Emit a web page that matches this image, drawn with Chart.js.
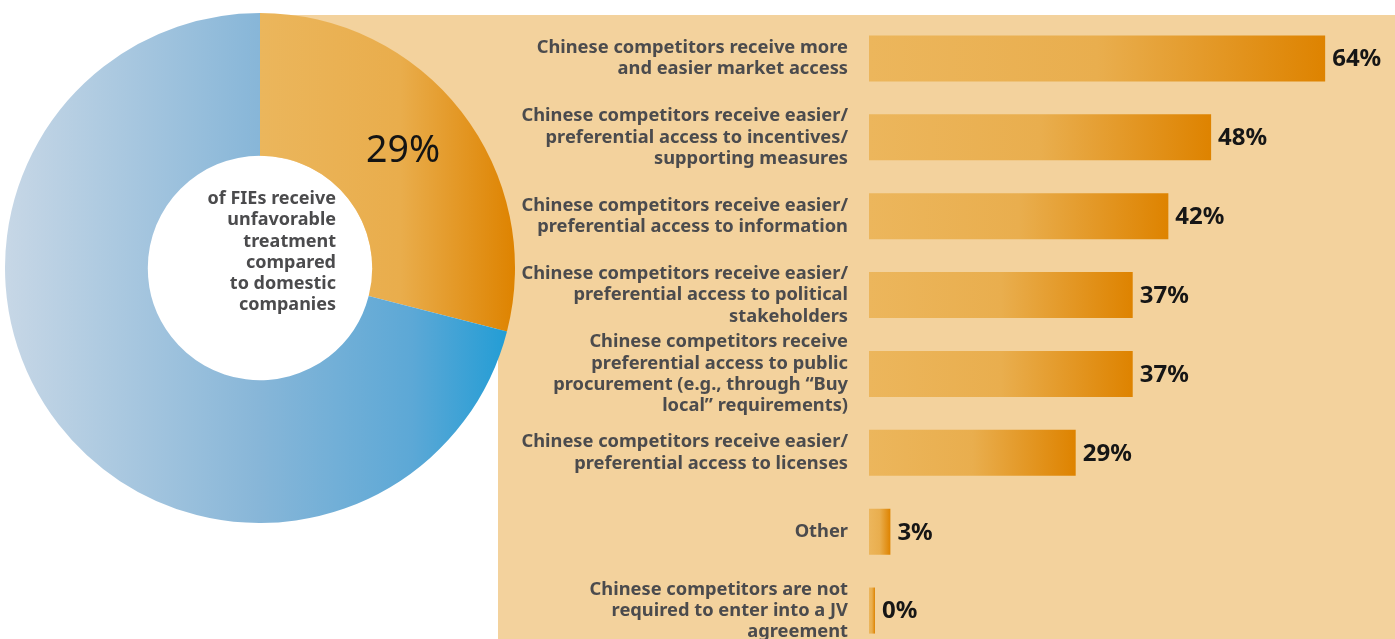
<!DOCTYPE html>
<html>
<head>
<meta charset="utf-8">
<script src="https://cdn.jsdelivr.net/npm/chart.js@4/dist/chart.umd.min.js"></script>
<style>
  html, body { margin: 0; padding: 0; background: #ffffff; overflow: hidden; }
  body { width: 1395px; height: 639px; position: relative; }
  .panel { position: absolute; background: #F3D29D; }
  #panelMain { left: 498px; top: 15px; width: 897px; height: 640px; }
  #panelTop { left: 259px; top: 15px; width: 240px; height: 253px; }
  #donutWrap { position: absolute; left: 5px; top: 13px; width: 510px; height: 510px; z-index: 2; }
  #barWrap { position: absolute; left: 500px; top: 0px; width: 895px; height: 650px; z-index: 3; }
</style>
</head>
<body>
<div class="panel" id="panelTop"></div>
<div class="panel" id="panelMain"></div>
<div id="donutWrap"><canvas id="donut"></canvas></div>
<div id="barWrap"><canvas id="bars"></canvas></div>

<script>
// Share of FIEs reporting unfavorable treatment vs. the rest
const donutLabels = ["Unfavorable treatment", "Other FIEs"];
const donutShares = [29, 71];
const holeText = ["of FIEs receive", "unfavorable", "treatment", "compared", "to domestic", "companies"];

// Ways in which Chinese competitors are favored
const categories = [
  ["Chinese competitors receive more", "and easier market access"],
  ["Chinese competitors receive easier/", "preferential access to incentives/", "supporting measures"],
  ["Chinese competitors receive easier/", "preferential access to information"],
  ["Chinese competitors receive easier/", "preferential access to political", "stakeholders"],
  ["Chinese competitors receive", "preferential access to public", "procurement (e.g., through \u201cBuy", "local\u201d requirements)"],
  ["Chinese competitors receive easier/", "preferential access to licenses"],
  ["Other"],
  ["Chinese competitors are not", "required to enter into a JV", "agreement"]
];
const values = [64, 48, 42, 37, 37, 29, 3, 0];

const FONT = "'Noto Sans', 'DejaVu Sans', sans-serif";
const ORANGE_LIGHT = "#ECB65C";
const ORANGE_MID = "#E9AE4E";
const ORANGE_DARK = "#DE8300";

function orangeGradient(ctx2d, x0, x1) {
  const g = ctx2d.createLinearGradient(x0, 0, x1, 0);
  g.addColorStop(0, ORANGE_LIGHT);
  g.addColorStop(0.5, ORANGE_MID);
  g.addColorStop(1, ORANGE_DARK);
  return g;
}

// ---------- Doughnut ----------
const donutText = {
  id: "donutText",
  beforeDatasetsDraw(chart) {
    const meta = chart.getDatasetMeta(0);
    const arc = meta.data[0];
    if (!arc) return;
    const c = chart.ctx;
    const ca = chart.chartArea;
    // horizontal gradients across each segment
    const cx = (ca.left + ca.right) / 2;
    const go = c.createLinearGradient(cx, 0, ca.right, 0);
    go.addColorStop(0, "#EBB65C");
    go.addColorStop(0.55, "#E9AD4C");
    go.addColorStop(1, "#DE8300");
    const gb = c.createLinearGradient(ca.left, 0, ca.right, 0);
    gb.addColorStop(0, "#C7D7E6");
    gb.addColorStop(0.5, "#87B6D8");
    gb.addColorStop(0.8, "#5CA8D6");
    gb.addColorStop(1, "#1E9CD5");
    meta.data[0].options.backgroundColor = go;
    meta.data[1].options.backgroundColor = gb;
    // white hole
    c.save();
    c.beginPath();
    c.arc(arc.x, arc.y, arc.innerRadius, 0, Math.PI * 2);
    c.fillStyle = "#ffffff";
    c.fill();
    c.restore();
  },
  afterDatasetsDraw(chart) {
    const meta = chart.getDatasetMeta(0);
    const arc = meta.data[0];
    if (!arc) return;
    const c = chart.ctx;
    c.save();
    // value on the highlighted segment
    const p = arc.tooltipPosition();
    c.font = "400 37.5px " + FONT;
    c.fillStyle = "#141414";
    c.textAlign = "center";
    c.textBaseline = "middle";
    c.fillText(donutShares[0] + "%", p.x - 2, p.y - 4);
    // caption inside the hole
    c.font = "700 18px " + FONT;
    c.fillStyle = "#4B4B4D";
    c.textAlign = "right";
    const lh = 21.2;
    const top = arc.y - 69;
    holeText.forEach((t, i) => c.fillText(t, arc.x + 76, top + i * lh));
    c.restore();
  }
};

new Chart(document.getElementById("donut"), {
  type: "doughnut",
  data: {
    labels: donutLabels,
    datasets: [{
      data: donutShares,
      borderWidth: 0,
      backgroundColor: [ORANGE_LIGHT, "#86B6D8"]
    }]
  },
  options: {
    responsive: true,
    maintainAspectRatio: false,
    animation: false,
    cutout: "44%",
    layout: { padding: 0 },
    plugins: { legend: { display: false }, tooltip: { enabled: false } }
  },
  plugins: [donutText]
});

// ---------- Horizontal bars ----------
const barStyle = {
  id: "barStyle",
  beforeDatasetsDraw(chart) {
    const meta = chart.getDatasetMeta(0);
    meta.data.forEach((bar) => {
      const x0 = bar.base;
      const x1 = Math.max(bar.x, x0 + 4);
      if (isFinite(x0) && isFinite(x1)) {
        bar.options.backgroundColor = orangeGradient(chart.ctx, x0, x1);
      }
    });
  },
  afterDatasetsDraw(chart) {
    const meta = chart.getDatasetMeta(0);
    const c = chart.ctx;
    c.save();
    c.font = "700 24px " + FONT;
    c.fillStyle = "#161616";
    c.textAlign = "left";
    c.textBaseline = "middle";
    meta.data.forEach((bar, i) => {
      c.fillText(values[i] + "%", bar.x + 7, bar.y + 1);
    });
    c.restore();
  }
};

new Chart(document.getElementById("bars"), {
  type: "bar",
  data: {
    labels: categories,
    datasets: [{
      data: values,
      borderWidth: 0,
      minBarLength: 6,
      categoryPercentage: 1,
      barPercentage: 0.584,
      // one colour per bar so each bar keeps its own gradient
      backgroundColor: values.map(() => ORANGE_MID)
    }]
  },
  options: {
    indexAxis: "y",
    responsive: true,
    maintainAspectRatio: false,
    animation: false,
    layout: { padding: { top: 19, right: 0, bottom: 0, left: 0 } },
    plugins: { legend: { display: false }, tooltip: { enabled: false } },
    scales: {
      x: {
        display: false,
        min: 0,
        max: 73.8
      },
      y: {
        afterFit(scale) {
          scale.width = 369;
          scale.paddingTop = 0;
          scale.paddingBottom = 0;
        },
        border: { display: false },
        grid: { display: false, drawTicks: false, tickLength: 0 },
        ticks: {
          autoSkip: false,
          padding: 21,
          crossAlign: "near",
          color: "#4B4B4D",
          font: { family: FONT, size: 18.3, weight: "700", lineHeight: 1.16 }
        }
      }
    }
  },
  plugins: [barStyle]
});
</script>
</body>
</html>
